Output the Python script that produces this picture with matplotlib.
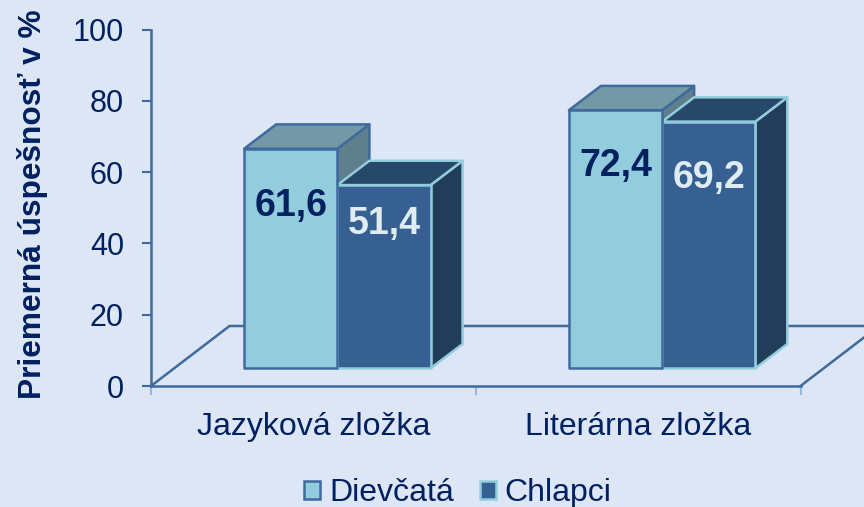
import matplotlib
matplotlib.use("Agg")
import matplotlib.pyplot as plt
from matplotlib.patches import Polygon, Patch

categories = ["Jazyková zložka", "Literárna zložka"]
series_names = ["Dievčatá", "Chlapci"]
dievcata = [61.6, 72.4]
chlapci = [51.4, 69.2]
y_ticks = [0, 20, 40, 60, 80, 100]
y_label = "Priemerná úspešnosť v %"

plt.rcParams["font.family"] = ["Liberation Sans", "DejaVu Sans"]
BG = "#DCE6F4"
AXIS = "#3F6A9E"
TEXT = "#002060"
LIGHT = dict(front="#93CDDD", top="#7399A6", side="#5F7F8C", edge="#3F6A9E")
DARK = dict(front="#366092", top="#274869", side="#223D5A", edge="#93CDDD")

W, H = 864, 507
fig = plt.figure(figsize=(W / 100, H / 100), dpi=100, facecolor=BG)
L, R, T, B = 151, 800.5, 29.5, 386
ax = fig.add_axes([L / W, 1 - B / H, (R - L) / W, (B - T) / H], facecolor="none")
ax.set_xlim(0, len(categories))
ax.set_ylim(0, 100)

px_x = len(categories) / (R - L)
px_y = 100 / (B - T)
bar_w = 93.2 * px_x
depth_x, depth_y = 32 * px_x, 24.3 * px_y
floor_x, floor_y = 78.5 * px_x, 60 * px_y
base = 17.7 * px_y
shift = 24 * px_x


def poly(points, fc, ec, z):
    ax.add_patch(Polygon(points, closed=True, facecolor=fc, edgecolor=ec,
                         linewidth=1.8, joinstyle="round", clip_on=False, zorder=z))


def bar3d(x0, value, st, z_back, z_front):
    x1 = x0 + bar_w
    y0, y1 = base, base + value
    poly([(x1, y0), (x1 + depth_x, y0 + depth_y), (x1 + depth_x, y1 + depth_y), (x1, y1)],
         st["side"], st["edge"], z_back)
    poly([(x0, y1), (x1, y1), (x1 + depth_x, y1 + depth_y), (x0 + depth_x, y1 + depth_y)],
         st["top"], st["edge"], z_back)
    poly([(x0, y0), (x1, y0), (x1, y1), (x0, y1)], st["front"], st["edge"], z_front)


# floor
n = len(categories)
ax.plot([0, floor_x, n + floor_x], [0, floor_y, floor_y], color=AXIS, lw=1.8,
        clip_on=False, zorder=1, solid_joinstyle="miter")
ax.plot([n, n + floor_x], [0, floor_y], color=AXIS, lw=1.8, clip_on=False, zorder=1)

label_offsets_d = [-16.0, -15.7]
label_offsets_c = [-10.9, -15.8]
for i in range(n):
    x0 = i + 0.5 - bar_w + shift
    bar3d(x0, dievcata[i], LIGHT, 3, 5)
    bar3d(x0 + bar_w, chlapci[i], DARK, 4, 4.5)
    ax.text(x0 + bar_w / 2, base + dievcata[i] + label_offsets_d[i], f"{dievcata[i]:.1f}".replace(".", ","),
            ha="center", va="center", fontsize=27, fontweight="bold", color=TEXT, zorder=6)
    ax.text(x0 + 1.5 * bar_w, base + chlapci[i] + label_offsets_c[i], f"{chlapci[i]:.1f}".replace(".", ","),
            ha="center", va="center", fontsize=27, fontweight="bold", color="#DFEDF3", zorder=6)

for s in ["top", "right"]:
    ax.spines[s].set_visible(False)
for s in ["left", "bottom"]:
    ax.spines[s].set_color(AXIS)
    ax.spines[s].set_linewidth(1.8)
    ax.spines[s].set_zorder(2)

ax.set_yticks(y_ticks)
ax.tick_params(axis="y", length=6.5, width=1.5, color=AXIS, labelsize=22, labelcolor=TEXT, pad=13)
ax.set_xticks([0, 1, 2])
ax.set_xticklabels([])
ax.tick_params(axis="x", length=6.5, width=1.5, color="#9DB6DE")
for x, c in zip([0.5, 1.5], categories):
    ax.annotate(c, (x, 0), xytext=(0, -41), textcoords="offset pixels", ha="center", va="center",
                fontsize=23, color=TEXT, annotation_clip=False)

fig.text(33 / W, 1 - 204 / H, y_label, rotation=90, ha="center", va="center",
         fontsize=22.8, fontweight="bold", color=TEXT)

handles = [Patch(facecolor=LIGHT["front"], edgecolor=LIGHT["edge"], linewidth=1.8),
           Patch(facecolor=DARK["front"], edgecolor=DARK["edge"], linewidth=1.8)]
leg = fig.legend(handles, series_names, loc="center", bbox_to_anchor=(458 / W, 1 - 493 / H), ncol=2,
                 frameon=False, fontsize=23, handlelength=0.5, handleheight=0.5,
                 handletextpad=0.28, columnspacing=0.8, borderpad=0, labelcolor=TEXT)

fig.savefig("out.png", dpi=100, facecolor=BG)
